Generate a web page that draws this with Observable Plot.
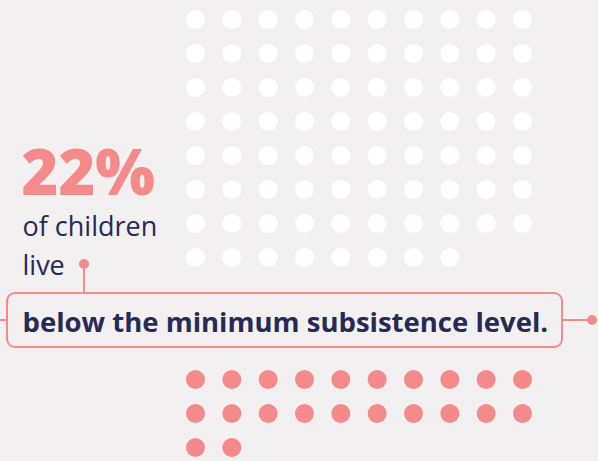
<!DOCTYPE html>
<html><head><meta charset="utf-8">
<script src="https://cdn.jsdelivr.net/npm/d3@7"></script>
<script src="https://cdn.jsdelivr.net/npm/@observablehq/plot@0.6"></script>
<style>
html,body{margin:0;padding:0;background:#f3f0f1;}
#chart svg{display:block;}
</style></head><body><div id="chart"></div>
<script>
// ---- data ----
const categories = ["below", "above"];          // below / above the minimum subsistence level
const shares = [22, 78];                          // percent of children
const headline = "22%";
const introLines = ["of children", "live"];
const boxText = "below the minimum subsistence level.";

// ---- layout helpers ----
const PINK = "#f48a89", NAVY = "#272a55", WHITE = "#ffffff", BG = "#f3f0f1";
const perRow = 10;
const pinkRowStart = 10.59; // rows below the annotation box

const units = [];
["above", "below"].forEach(cat => {
  const n = shares[categories.indexOf(cat)];
  for (let i = 0; i < n; i++) {
    units.push({cat, col: i % perRow, row: Math.floor(i / perRow) + (cat === "below" ? pinkRowStart : 0)});
  }
});

const annotation = (index, scales, values, dims) => {
  const g = d3.create("svg:g");
  const boxX = 7, boxY = 293, boxW = 555, boxH = 54, midY = boxY + boxH / 2;
  g.append("line").attr("x1", 0).attr("x2", boxX).attr("y1", midY).attr("y2", midY)
    .attr("stroke", PINK).attr("stroke-width", 2);
  g.append("line").attr("x1", boxX + boxW).attr("x2", 592).attr("y1", midY).attr("y2", midY)
    .attr("stroke", PINK).attr("stroke-width", 2);
  g.append("circle").attr("cx", 592).attr("cy", midY).attr("r", 5).attr("fill", PINK);
  g.append("line").attr("x1", 84).attr("x2", 84).attr("y1", 264).attr("y2", boxY)
    .attr("stroke", PINK).attr("stroke-width", 2);
  g.append("circle").attr("cx", 84).attr("cy", 264).attr("r", 5).attr("fill", PINK);
  g.append("rect").attr("x", boxX).attr("y", boxY).attr("width", boxW).attr("height", boxH)
    .attr("rx", 8).attr("fill", BG).attr("stroke", PINK).attr("stroke-width", 2);
  return g.node();
};

const chart = Plot.plot({
  width: 598,
  height: 461,
  margin: 0,
  style: {background: BG, fontFamily: "'Open Sans', sans-serif"},
  x: {type: "linear", domain: [0, 9], range: [195, 522], axis: null},
  y: {type: "linear", domain: [0, 7], range: [19, 257], axis: null},
  color: {domain: categories, range: [PINK, WHITE]},
  marks: [
    Plot.dot(units, {x: "col", y: "row", r: 9.5, fill: d => d.cat === "below" ? PINK : WHITE, stroke: null}),
    annotation,
    Plot.text([headline], {frameAnchor: "top-left", dx: 21, dy: 194, textAnchor: "start", lineAnchor: "bottom",
      fontSize: 63, fontWeight: 800, fill: PINK}),
    Plot.text([introLines[0]], {frameAnchor: "top-left", dx: 22, dy: 235, textAnchor: "start", lineAnchor: "bottom",
      fontSize: 27, fill: NAVY}),
    Plot.text([introLines[1]], {frameAnchor: "top-left", dx: 22, dy: 274, textAnchor: "start", lineAnchor: "bottom",
      fontSize: 27, fill: NAVY}),
    Plot.text([boxText], {frameAnchor: "top-left", dx: 22, dy: 331, textAnchor: "start", lineAnchor: "bottom",
      fontSize: 27.5, fontWeight: 700, fill: NAVY})
  ]
});
document.getElementById("chart").appendChild(chart);
</script></body></html>
